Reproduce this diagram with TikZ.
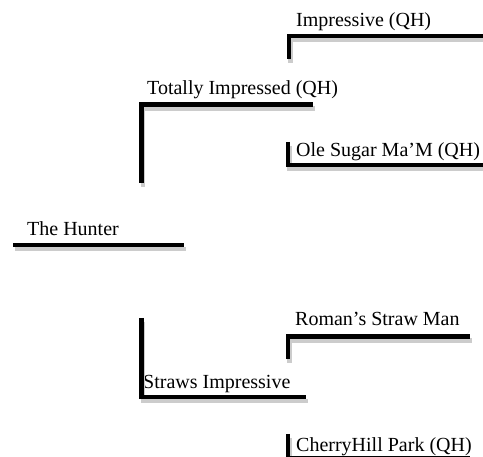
\documentclass[tikz,border=0pt]{standalone}
\usepackage{fontspec}
\setmainfont{Liberation Serif}
\definecolor{shadowgray}{HTML}{CCCCCC}
\begin{document}
\begin{tikzpicture}[x=1pt,y=-1pt,
  horsename/.style={anchor=base west, inner sep=0pt, font=\fontsize{20}{24}\selectfont},
  bracket/.style={line width=4.6pt, line cap=butt, line join=miter,
    preaction={draw=shadowgray, line width=4.6pt,
      transform canvas={xshift=1.6pt, yshift=-4pt}}}]
\useasboundingbox (0,0) rectangle (483,457);
\clip (0,0) rectangle (483,457);

% names
\node[horsename] (hunter) at (27,236) {The Hunter};
\node[horsename] (sire) at (147,95) {Totally Impressed (QH)};
\node[horsename] (dam) at (143,389) {Straws Impressive};
\node[horsename] (ss) at (296,27) {Impressive (QH)};
\node[horsename] (sd) at (296,157) {Ole Sugar Ma'M (QH)};
\node[horsename] (ds) at (295,326) {Roman's Straw Man};
\node[horsename] (dd) at (296,452) {CherryHill Park (QH)};

% bracket corners
\coordinate (h0) at (13,245);   \coordinate (h1) at (184,245);
\coordinate (s0) at (141.5,183); \coordinate (s1) at (141.5,104.5); \coordinate (s2) at (313,104.5);
\coordinate (d0) at (141.5,318); \coordinate (d1) at (141.5,397);   \coordinate (d2) at (306,397);
\coordinate (ss0) at (289,59);  \coordinate (ss1) at (289,36);  \coordinate (ss2) at (490,36);
\coordinate (sd0) at (288,142); \coordinate (sd1) at (288,165); \coordinate (sd2) at (490,165);
\coordinate (ds0) at (288,359); \coordinate (ds1) at (288,336.5); \coordinate (ds2) at (470,336.5);
\coordinate (dd0) at (288,434); \coordinate (dd1) at (288,458.6); \coordinate (dd2) at (470,458.6);

% lines
\draw[bracket] (h0) -- (h1);
\draw[bracket] (s0) -- (s1) -- (s2);
\draw[bracket] (d0) -- (d1) -- (d2);
\draw[bracket] (ss0) -- (ss1) -- (ss2);
\draw[bracket] (sd0) -- (sd1) -- (sd2);
\draw[bracket] (ds0) -- (ds1) -- (ds2);
\draw[bracket] (dd0) -- (dd1) -- (dd2);
\end{tikzpicture}
\end{document}
